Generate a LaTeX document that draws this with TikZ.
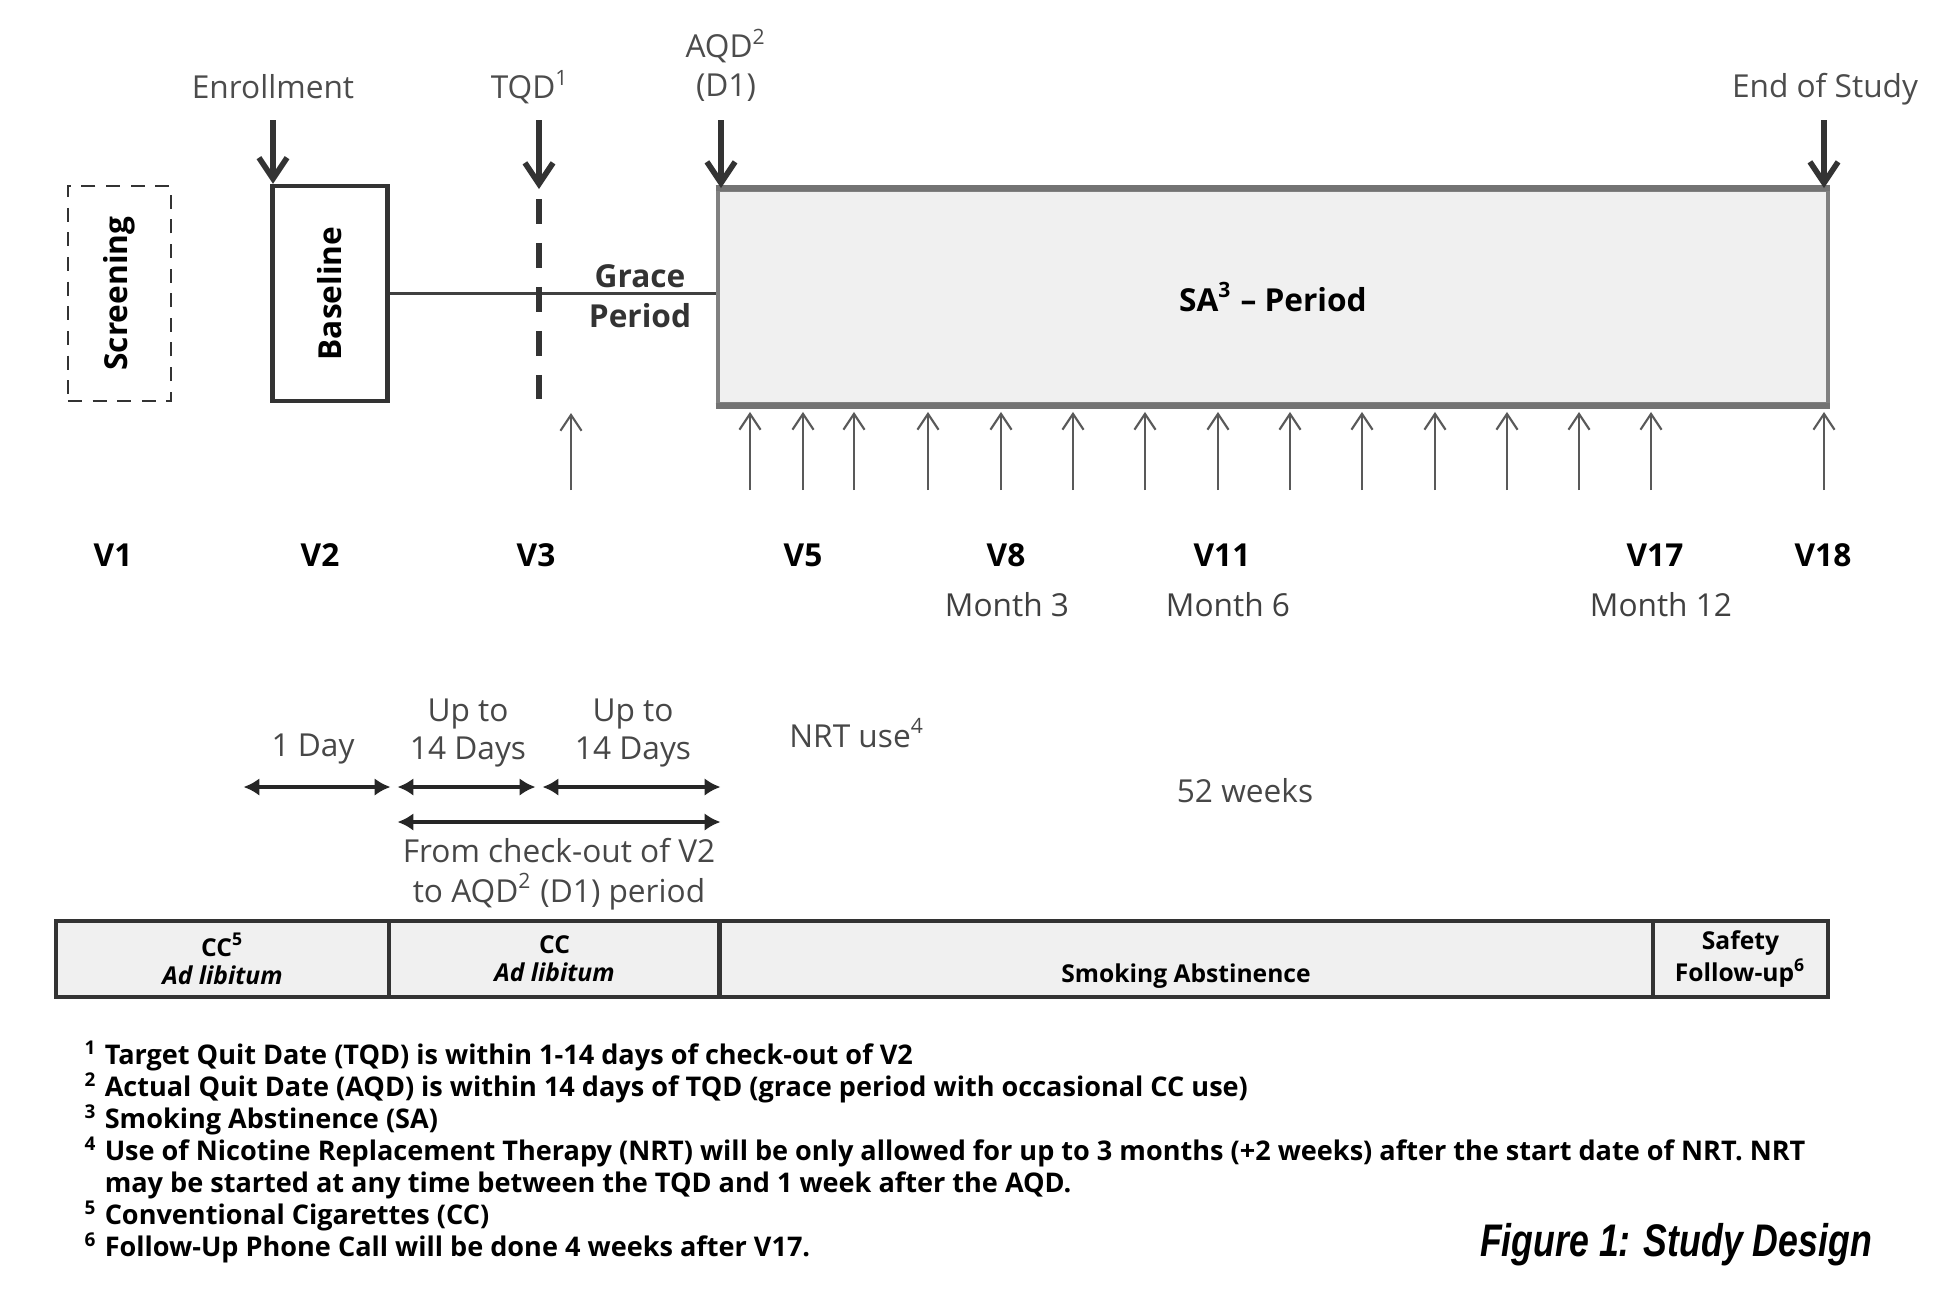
\documentclass[tikz,border=0pt]{standalone}
\usepackage{graphicx}
\usepackage{fontspec}
\setmainfont{Open Sans}
\newfontfamily\titlefont{Liberation Sans}
\usetikzlibrary{arrows.meta}
\begin{document}
\begin{tikzpicture}[x=0.01cm, y=-0.01cm,
  every node/.style={font=\fontsize{9}{11}\selectfont, align=center, inner sep=0pt},
  toplbl/.style={text=black!70},
  vislbl/.style={font=\bfseries\fontsize{9}{11}\selectfont},
  monthlbl/.style={text=black!75},
  durlbl/.style={text=black!72},
  boxtxt/.style={rotate=90, font=\bfseries\fontsize{9}{11}\selectfont},
  downarr/.style={-{Straight Barb[length=6pt,width=8pt]}, line width=1.6pt, black!80},
  uparr/.style={-{Straight Barb[length=4.5pt,width=6pt]}, line width=0.6pt, black!65},
  spanarr/.style={{Latex[length=4.5pt,width=5pt]}-{Latex[length=4.5pt,width=5pt]}, line width=1.2pt, black!85, shorten <=1pt, shorten >=1pt},
  barcell/.style={draw=black!80, line width=1.3pt, fill=black!6, minimum height=0.76cm, font=\bfseries\fontsize{7}{8}\selectfont}]
\useasboundingbox (0,0) rectangle (1947,1308);
\node[toplbl] (enroll) at (273,87) {Enrollment};
\node[toplbl] (tqd) at (530,87) {TQD\textsuperscript{1}};
\node[toplbl] (aqd) at (726,65) {AQD\textsuperscript{2}\\(D1)};
\node[toplbl] (eos) at (1825,89) {End of Study};
\node[draw=black!80, dashed, dash pattern=on 4pt off 3pt, line width=0.8pt, minimum width=1.03cm, minimum height=2.15cm] (screening) at (119.5,293.5) {};
\node[boxtxt] (screentxt) at (screening) {Screening};
\node[draw=black!80, line width=1.2pt, minimum width=1.15cm, minimum height=2.15cm] (baseline) at (330,293.5) {};
\node[boxtxt] (basetxt) at (baseline) {Baseline};
\node[draw=black!50, line width=1.1pt, fill=black!6, minimum width=11.1cm, minimum height=2.14cm, font=\bfseries\fontsize{9}{11}\selectfont] (saperiod) at (1273,297) {SA\textsuperscript{3} -- Period};
\draw[line width=1.6pt, black!55] (saperiod.north west) -- (saperiod.north east) (saperiod.south west) -- (saperiod.south east);
\node[font=\bfseries\fontsize{9}{11.2}\selectfont, text=black!80] (grace) at (640,296) {Grace\\Period};
\draw[line width=1pt, black!75] (baseline.east) -- (baseline.east -| saperiod.west);
\coordinate (enrtail) at (273,120);
\coordinate (tqdtail) at (539,120);
\coordinate (tqdtip) at (539,189);
\coordinate (tqdtop) at (539,199);
\coordinate (tqdbot) at (539,412);
\coordinate (aqdtail) at (721,120);
\coordinate (eostail) at (1824,120);
\draw[downarr] (enrtail) -- (enrtail |- baseline.north);
\draw[downarr] (tqdtail) -- (tqdtip);
\draw[downarr] (aqdtail) -- (aqdtail |- saperiod.north);
\draw[downarr] (eostail) -- (eostail |- saperiod.north);
\draw[line width=1.6pt, black!80, dash pattern=on 7pt off 5.5pt] (tqdtop) -- (tqdbot);
\coordinate (v3tail) at (571,490);
\coordinate (v3tip) at (571,413);
\draw[uparr] (v3tail) -- (v3tip);
\foreach \vx [count=\i] in {750,803,854,928,1001,1073,1145,1218,1290,1362,1435,1507,1579,1651,1824} {
  \coordinate (vt\i) at (\vx,490);
  \draw[uparr, shorten >=1.7pt] (vt\i) -- (vt\i |- saperiod.south);
}
\foreach \nm/\vx in {V1/113, V2/320, V3/536, V5/803, V8/1006, V11/1222, V17/1655, V18/1823}
  \node[vislbl] (lbl\nm) at (\vx,555) {\nm};
\node[monthlbl] (mthree) at (1007,605) {Month 3};
\node[monthlbl] (msix) at (1228,605) {Month 6};
\node[monthlbl] (mtwelve) at (1661,605) {Month 12};
\node[durlbl] (oneday) at (313,749) {1 Day};
\node[durlbl] (uptoa) at (468,733) {Up to\\14 Days};
\node[durlbl] (uptob) at (633,733) {Up to\\14 Days};
\node[durlbl] (nrtuse) at (857,733) {NRT use\textsuperscript{4}};
\node[durlbl] (weeks) at (1245,791) {52 weeks};
\node[durlbl, font=\fontsize{9}{11.4}\selectfont] (checkout) at (559,874) {From check-out of V2\\to AQD\textsuperscript{2} (D1) period};
\coordinate (da) at (240,787);
\coordinate (db) at (394,787);
\coordinate (dc) at (539,787);
\coordinate (dd) at (724,787);
\coordinate (ea) at (394,822);
\coordinate (eb) at (724,822);
\draw[spanarr] (da) -- (db);
\draw[spanarr] (db) -- (dc);
\draw[spanarr] (dc) -- (dd);
\draw[spanarr] (ea) -- (eb);
\node[barcell, minimum width=3.33cm] (ccfree) at (222.5,959) {CC\textsuperscript{5}\\\textit{Ad libitum}};
\node[barcell, minimum width=3.31cm] (ccgrace) at (554.5,959) {CC\\\textit{Ad libitum}};
\node[barcell, minimum width=9.33cm] (abstin) at (1186.5,959) {};
\node[font=\bfseries\fontsize{7}{8}\selectfont] (abstintxt) at (1186,976) {Smoking Abstinence};
\node[barcell, minimum width=1.75cm] (safety) at (1740.5,959) {Safety\\Follow-up\textsuperscript{6}};
\node[anchor=north west, align=left, font=\bfseries\fontsize{7.7}{9.1}\selectfont] (notes) at (84,1040) {%
\makebox[5.7pt][l]{\textsuperscript{1}}Target Quit Date (TQD) is within 1-14 days of check-out of V2\\
\makebox[5.7pt][l]{\textsuperscript{2}}Actual Quit Date (AQD) is within 14 days of TQD (grace period with occasional CC use)\\
\makebox[5.7pt][l]{\textsuperscript{3}}Smoking Abstinence (SA)\\
\makebox[5.7pt][l]{\textsuperscript{4}}Use of Nicotine Replacement Therapy (NRT) will be only allowed for up to 3 months (+2 weeks) after the start date of NRT. NRT\\
\makebox[5.7pt][l]{}may be started at any time between the TQD and 1 week after the AQD.\\
\makebox[5.7pt][l]{\textsuperscript{5}}Conventional Cigarettes (CC)\\
\makebox[5.7pt][l]{\textsuperscript{6}}Follow-Up Phone Call will be done 4 weeks after V17.};
\node (figtitle) at (1676,1245) {\titlefont\bfseries\itshape\fontsize{13}{15}\selectfont\scalebox{0.78}[1]{Figure 1: Study Design}};
\end{tikzpicture}
\end{document}
